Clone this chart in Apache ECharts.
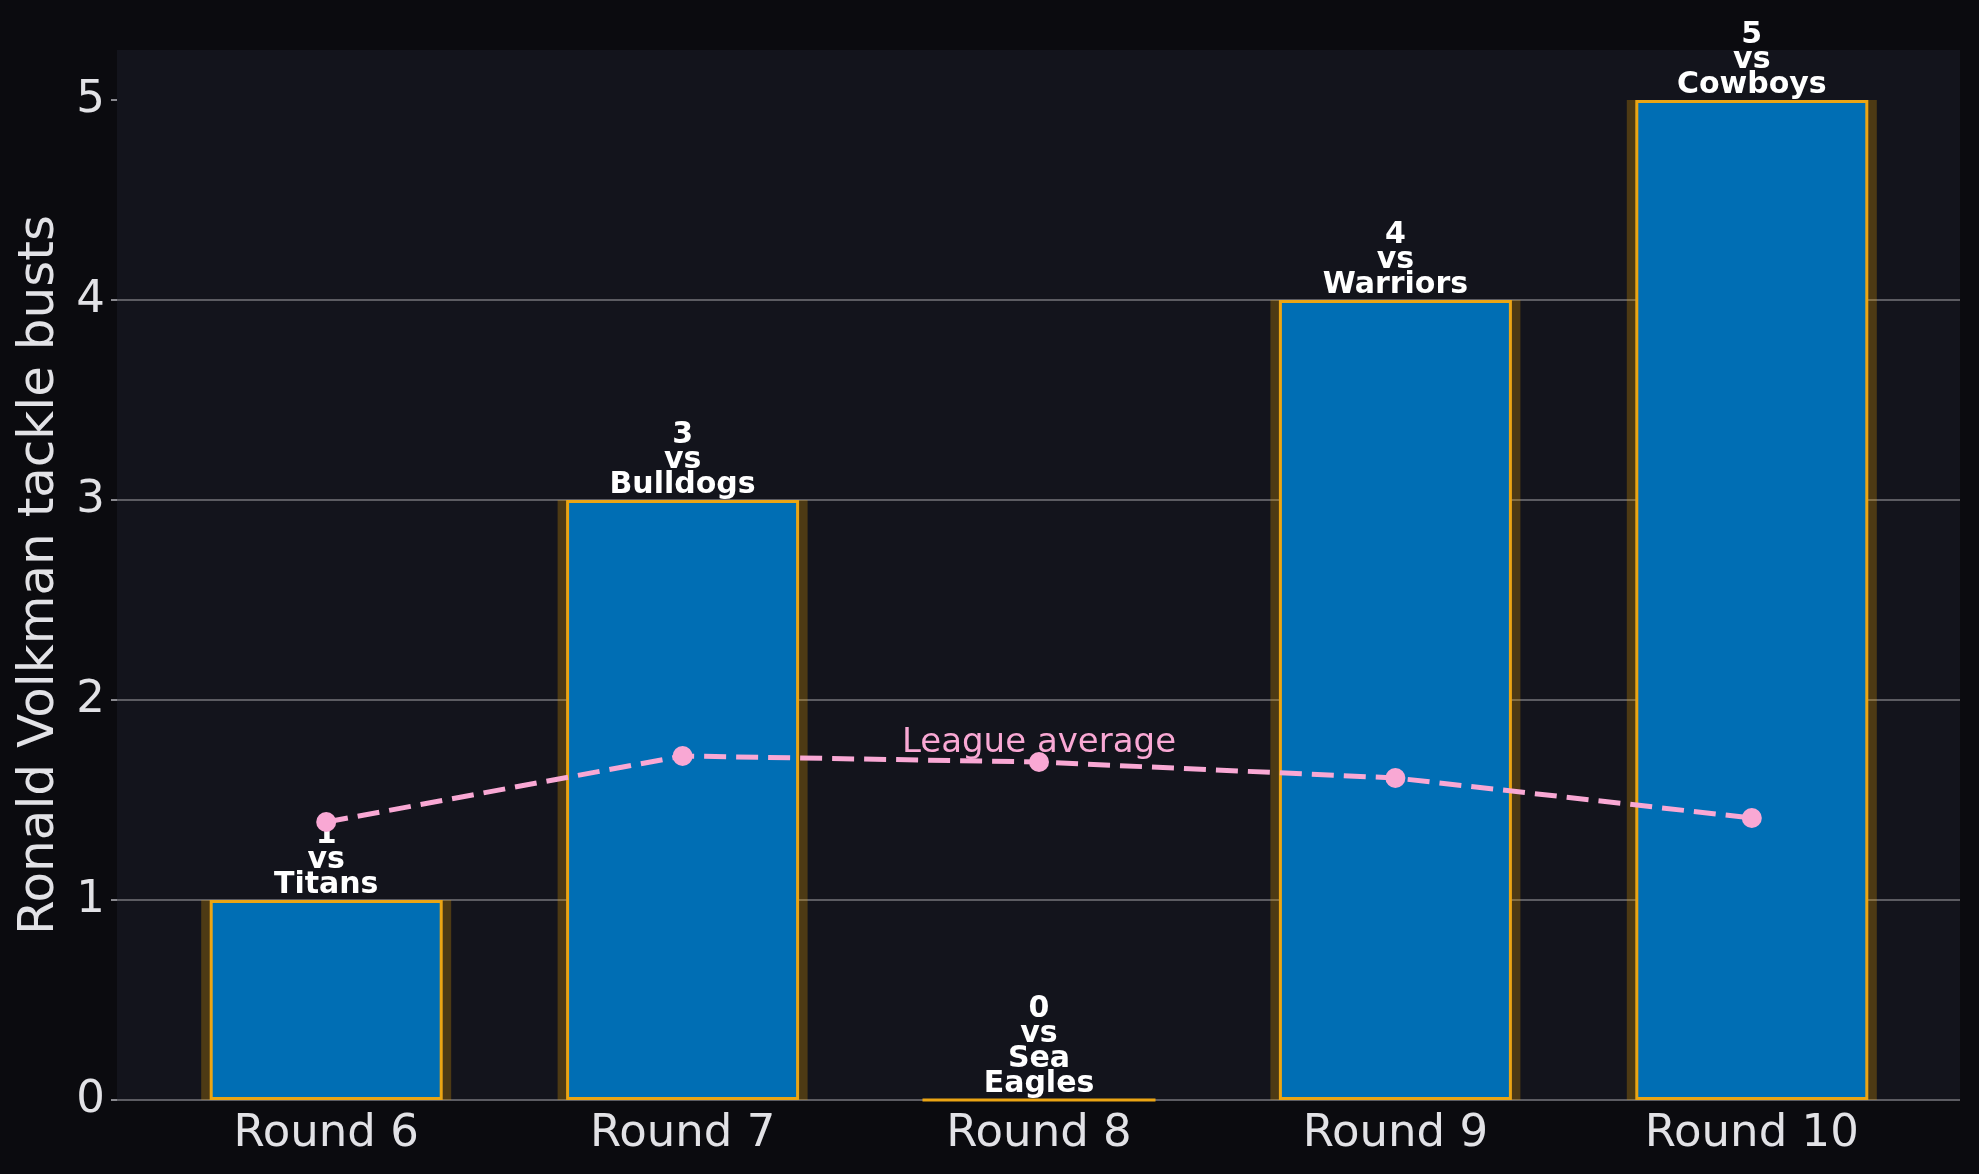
<!DOCTYPE html>
<html>
<head>
<meta charset="utf-8">
<script src="https://cdn.jsdelivr.net/npm/echarts@6/dist/echarts.min.js"></script>
<style>
  html, body { margin: 0; padding: 0; background: #0b0b0f; }
  #chart { width: 1979px; height: 1174px; }
</style>
</head>
<body>
<div id="chart"></div>
<script>
// données
const rounds = ['Round 6', 'Round 7', 'Round 8', 'Round 9', 'Round 10'];
const tackleBusts = [1, 3, 0, 4, 5];
const opponents = ['Titans', 'Bulldogs', 'Sea Eagles', 'Warriors', 'Cowboys'];
const leagueAvg = [1.39, 1.72, 1.69, 1.61, 1.41];
const yTicks = [0, 1, 2, 3, 4, 5];

const FONT = 'DejaVu Sans';
const TXT = '#e2e2e6';
const ORANGE = '#eba514';
const PINK = '#f9a8d4';

const chart = echarts.init(document.getElementById('chart'), null, { renderer: 'canvas' });

chart.setOption({
  backgroundColor: '#0b0b0f',
  animation: false,
  grid: [
    // grille de fond : quadrillage + axe Y
    { left: 117, right: 19, top: 50, bottom: 74, show: true, backgroundColor: '#13141c', borderWidth: 0 },
    // grille des barres (catégories un peu resserrées comme l'original)
    { left: 148, right: 49, top: 50, bottom: 74 },
  ],
  xAxis: [
    { gridIndex: 0, type: 'value', min: 0, max: 1, show: false },
    {
      gridIndex: 1, type: 'category', data: rounds,
      axisLine: { show: false }, axisTick: { show: false },
      axisLabel: { color: TXT, fontFamily: FONT, fontSize: 45, margin: 12 },
    },
    // axe caché pour le halo, pour qu'il reste centré sous la barre
    { gridIndex: 1, type: 'category', data: rounds, show: false },
  ],
  yAxis: [
    {
      gridIndex: 0, type: 'value', min: 0, max: 5.25, interval: 1,
      name: 'Ronald Volkman tackle busts', nameLocation: 'middle', nameGap: 50,
      nameTextStyle: { color: TXT, fontFamily: FONT, fontSize: 50 },
      axisLine: { show: false },
      axisTick: { show: true, length: 6, customValues: yTicks, lineStyle: { color: '#8a8a90', width: 2 } },
      axisLabel: { color: TXT, fontFamily: FONT, fontSize: 45, margin: 12, customValues: yTicks },
      splitLine: { show: true, showMaxLine: false, lineStyle: { color: '#5c5c62', width: 2 } },
    },
    { gridIndex: 1, type: 'value', min: 0, max: 5.25, show: false },
  ],
  series: [
    {
      // halo orange derrière chaque barre
      type: 'bar', xAxisIndex: 2, yAxisIndex: 1,
      data: tackleBusts, barWidth: 250, silent: true,
      itemStyle: { color: 'rgba(230,159,0,0.28)' },
      z: 1,
    },
    {
      type: 'bar', xAxisIndex: 1, yAxisIndex: 1,
      data: tackleBusts, barWidth: 233,
      itemStyle: { color: '#006eb4', borderColor: ORANGE, borderWidth: 3 },
      label: {
        show: true, position: 'top', distance: 2,
        color: '#ffffff', fontFamily: FONT, fontWeight: 'bold', fontSize: 30, lineHeight: 25,
        formatter: (p) => `${p.value}\nvs\n${opponents[p.dataIndex].replace(' ', '\n')}`,
      },
      z: 2,
    },
    {
      type: 'line', xAxisIndex: 1, yAxisIndex: 1,
      data: leagueAvg.map((v, i) => (i === 2
        ? { value: v, label: { show: true, position: 'top', distance: -8, formatter: 'League average',
            color: PINK, fontFamily: FONT, fontSize: 34 } }
        : v)),
      symbol: 'circle', symbolSize: 20,
      lineStyle: { color: PINK, width: 5, type: [22, 10] },
      itemStyle: { color: PINK },
      z: 5,
    },
  ],
});
</script>
</body>
</html>
